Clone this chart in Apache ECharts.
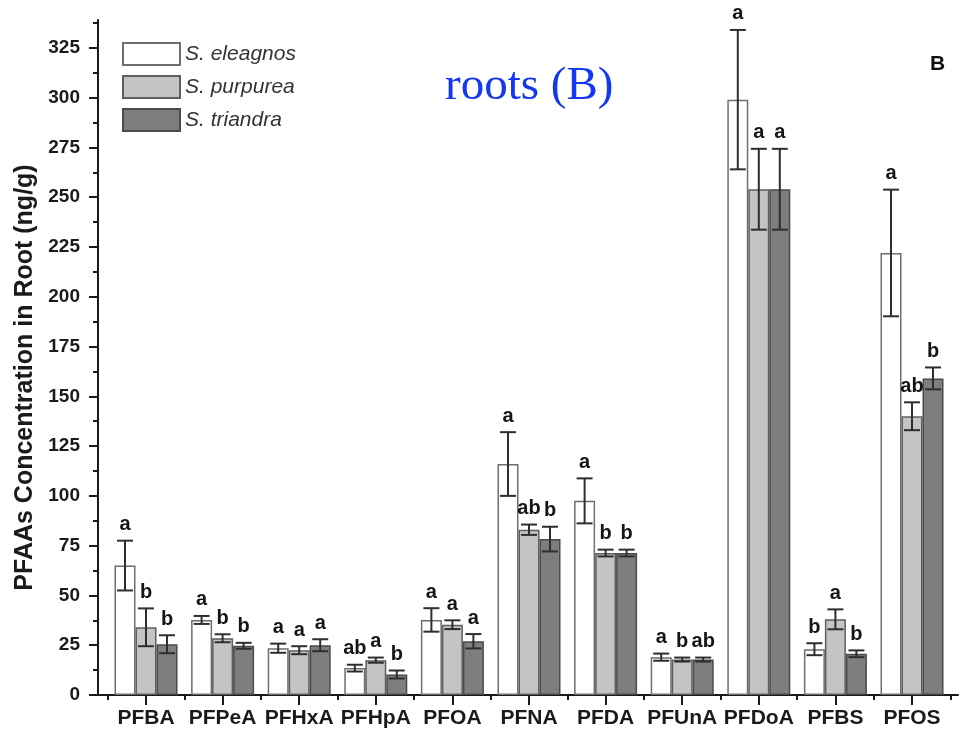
<!DOCTYPE html>
<html>
<head>
<meta charset="utf-8">
<script src="https://cdn.jsdelivr.net/npm/echarts@6/dist/echarts.min.js"></script>
<style>
html,body{margin:0;padding:0;background:#fff;}
#chart{width:969px;height:739px;}
</style>
</head>
<body>
<div id="chart"></div>
<script>
const categories = ['PFBA','PFPeA','PFHxA','PFHpA','PFOA','PFNA','PFDA','PFUnA','PFDoA','PFBS','PFOS'];
const seriesNames = ['S. eleagnos','S. purpurea','S. triandra'];

const eleagnos    = [65, 37.7, 23.5, 13.5, 37.7, 116, 97.5, 19, 299, 23, 222];
const eleagnosErr = [12.5, 2, 2.3, 1.7, 5.9, 16, 11.3, 1.8, 35, 3, 31.8];
const eleagnosSig = ['a','a','a','ab','a','a','a','a','a','b','a'];

const purpurea    = [34, 28.5, 22.5, 17.5, 35.3, 83, 71.3, 17.8, 254, 38, 140];
const purpureaErr = [9.5, 2, 2, 1.3, 2.2, 2.6, 1.7, 1, 20.3, 5, 7];
const purpureaSig = ['b','b','a','a','a','ab','b','b','a','a','ab'];

const triandra    = [25.5, 24.7, 25, 10.3, 27, 78.3, 71.3, 17.8, 254, 20.7, 159];
const triandraErr = [4.5, 1.5, 3, 2, 3.6, 6.2, 1.7, 1, 20.3, 1.7, 5.5];
const triandraSig = ['b','b','a','b','a','b','b','ab','a','b','b'];

const yTicks = [0,25,50,75,100,125,150,175,200,225,250,275,300,325];
const yMinorTicks = [12.5,37.5,62.5,87.5,112.5,137.5,162.5,187.5,212.5,237.5,262.5,287.5,312.5,337.5];
const yMax = 339;

const means = [eleagnos, purpurea, triandra];
const errs = [eleagnosErr, purpureaErr, triandraErr];
const sigs = [eleagnosSig, purpureaSig, triandraSig];
const fills = ['#ffffff', '#c4c4c4', '#7e7e7e'];
const borders = ['#6e6e6e', '#5e5e5e', '#4a4a4a'];
const BAR_W = 21;
const FONT = '"Liberation Sans", Arial, sans-serif';

const chart = echarts.init(document.getElementById('chart'));

const barSeries = seriesNames.map((name, i) => ({
  name: name,
  type: 'bar',
  xAxisIndex: 1,
  yAxisIndex: 2,
  barWidth: BAR_W,
  barGap: '0%',
  data: means[i],
  itemStyle: { color: fills[i], borderColor: borders[i], borderWidth: 1.5 },
  z: 2
}));

const errSeries = seriesNames.map((name, i) => ({
  name: name + ' err',
  type: 'custom',
  xAxisIndex: 1,
  yAxisIndex: 2,
  clip: false,
  z: 5,
  data: categories.map((c, k) => [k, means[i][k], errs[i][k]]),
  renderItem: function (params, api) {
    const k = api.value(0), m = api.value(1), e = api.value(2);
    const pTop = api.coord([k, m + e]);
    const pBot = api.coord([k, m - e]);
    const cx = pTop[0] + (i - 1) * BAR_W;
    const cap = 8;
    const st = { stroke: '#2e2e2e', lineWidth: 2 };
    return {
      type: 'group',
      children: [
        { type: 'line', shape: { x1: cx, y1: pTop[1], x2: cx, y2: pBot[1] }, style: st },
        { type: 'line', shape: { x1: cx - cap, y1: pTop[1], x2: cx + cap, y2: pTop[1] }, style: st },
        { type: 'line', shape: { x1: cx - cap, y1: pBot[1], x2: cx + cap, y2: pBot[1] }, style: st },
        { type: 'text', style: {
            text: sigs[i][params.dataIndex],
            x: cx, y: pTop[1] - 6,
            textAlign: 'center', textVerticalAlign: 'bottom',
            font: 'bold 20px ' + FONT, fill: '#151515'
        } }
      ]
    };
  }
}));

chart.setOption({
  animation: false,
  backgroundColor: '#ffffff',
  title: [
    { text: 'roots (B)', left: 440, top: 58,
      textStyle: { fontFamily: '"Liberation Serif", "Times New Roman", serif', fontWeight: 'normal', fontSize: 47, color: '#1438f0' } },
    { text: 'B', left: 925, top: 49,
      textStyle: { fontFamily: FONT, fontWeight: 'bold', fontSize: 21, color: '#111' } }
  ],
  legend: {
    data: seriesNames,
    orient: 'vertical',
    left: 117, top: 37,
    itemWidth: 57, itemHeight: 22, itemGap: 9,
    icon: 'rect',
    textStyle: { fontFamily: FONT, fontStyle: 'italic', fontSize: 21, color: '#333' }
  },
  grid: [
    { left: 98, right: 11, top: 20, bottom: 44 },
    { left: 107.7, right: 18.7, top: 20, bottom: 44 }
  ],
  xAxis: [
    { gridIndex: 0, type: 'value', min: 0, max: 1,
      axisLine: { show: true, onZero: false, lineStyle: { color: '#1a1a1a', width: 2 } },
      axisTick: { show: false }, axisLabel: { show: false }, splitLine: { show: false } },
    { gridIndex: 1, type: 'category', data: categories, position: 'bottom',
      axisLine: { show: false },
      axisTick: { show: true, alignWithLabel: true, interval: 0, length: 10, lineStyle: { color: '#1a1a1a', width: 2 } },
      axisLabel: { interval: 0, fontFamily: FONT, fontWeight: 'bold', fontSize: 21, color: '#1a1a1a', margin: 13 },
      splitLine: { show: false } },
    { gridIndex: 1, type: 'category', data: categories, position: 'bottom',
      axisLine: { show: false },
      axisTick: { show: true, alignWithLabel: false, interval: 0, length: 5, lineStyle: { color: '#1a1a1a', width: 2 } },
      axisLabel: { show: false }, splitLine: { show: false } }
  ],
  yAxis: [
    { gridIndex: 0, type: 'value', min: 0, max: yMax, position: 'left',
      name: 'PFAAs Concentration in Root (ng/g)',
      nameLocation: 'middle', nameGap: 54,
      nameTextStyle: { fontFamily: FONT, fontWeight: 'bold', fontSize: 25, color: '#1a1a1a', padding: [0, 40, 0, 0] },
      axisLine: { show: true, lineStyle: { color: '#1a1a1a', width: 2 } },
      axisTick: { show: true, length: 9, customValues: yTicks, lineStyle: { color: '#1a1a1a', width: 2 } },
      axisLabel: { customValues: yTicks, fontFamily: FONT, fontWeight: 'bold', fontSize: 19, color: '#1a1a1a', margin: 18 },
      splitLine: { show: false } },
    { gridIndex: 0, type: 'value', min: 0, max: yMax, position: 'left', offset: 0,
      axisLine: { show: false },
      axisTick: { show: true, length: 5, customValues: yMinorTicks, lineStyle: { color: '#1a1a1a', width: 2 } },
      axisLabel: { show: false }, splitLine: { show: false } },
    { gridIndex: 1, type: 'value', min: 0, max: yMax, show: false }
  ],
  series: barSeries.concat(errSeries)
});
</script>
</body>
</html>
